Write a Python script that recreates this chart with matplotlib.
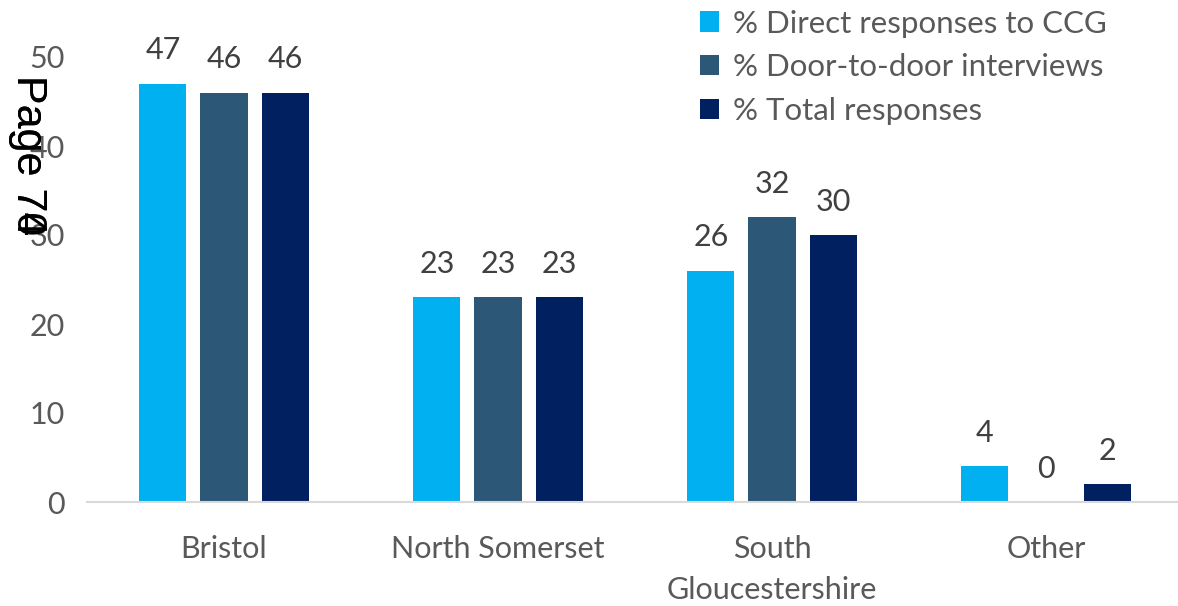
import matplotlib
matplotlib.use("Agg")
import matplotlib.pyplot as plt
import numpy as np

# data
areas = ['Bristol', 'North Somerset', 'South\nGloucestershire', 'Other']
series = ['% Direct responses to CCG', '% Door-to-door interviews', '% Total responses']
direct = [47, 23, 26, 4]
door = [46, 23, 32, 0]
total = [46, 23, 30, 2]
colours = ['#00B0F0', '#2C5777', '#002060']

plt.rcParams['font.family'] = ['Lato', 'DejaVu Sans']
grey = '#595959'

fig = plt.figure(figsize=(11.78, 6.06), dpi=100)
ax = fig.add_axes([87 / 1178, 1 - 502 / 606, 1096 / 1178, (502 - 57) / 606])

x = np.arange(len(areas))
w = 0.172
step = 0.223
for i, (vals, lab, c) in enumerate(zip([direct, door, total], series, colours)):
    bars = ax.bar(x + (i - 1) * step, vals, w, color=c, label=lab)
    for b, v in zip(bars, vals):
        ax.annotate(str(v), (b.get_x() + b.get_width() / 2, v), xytext=(0, 14),
                    textcoords='offset points', ha='center', va='bottom',
                    fontsize=22, color='#404040')

ax.set_xlim(-0.5, len(areas) - 0.5)
ax.set_ylim(0, 50)
ax.set_yticks([0, 10, 20, 30, 40, 50])
ax.set_xticks(x)
ax.set_xticklabels(areas, linespacing=1.55)
ax.tick_params(axis='both', length=0, labelsize=22, labelcolor=grey)
ax.tick_params(axis='y', pad=16)
ax.tick_params(axis='x', pad=24)
for s in ['top', 'right', 'left']:
    ax.spines[s].set_visible(False)
ax.spines['bottom'].set_color('#D9D9D9')
ax.spines['bottom'].set_linewidth(1.5)

fig.legend(loc='upper left', bbox_to_anchor=(0.581, 1.01), frameon=False,
           fontsize=22.5, labelcolor=grey, handlelength=0.62, handleheight=0.62,
           handletextpad=0.45, labelspacing=0.5, borderpad=0.0)

# page stamp overlapping the axis
fig.text(0.024, 0.877, 'Page 70', rotation=270, fontsize=31, family='Liberation Sans',
         color='black', ha='center', va='top')
fig.text(0.024, 0.877, 'Page 74', rotation=270, fontsize=31, family='Liberation Sans',
         color='black', ha='center', va='top')

fig.savefig('out.png', dpi=100)
